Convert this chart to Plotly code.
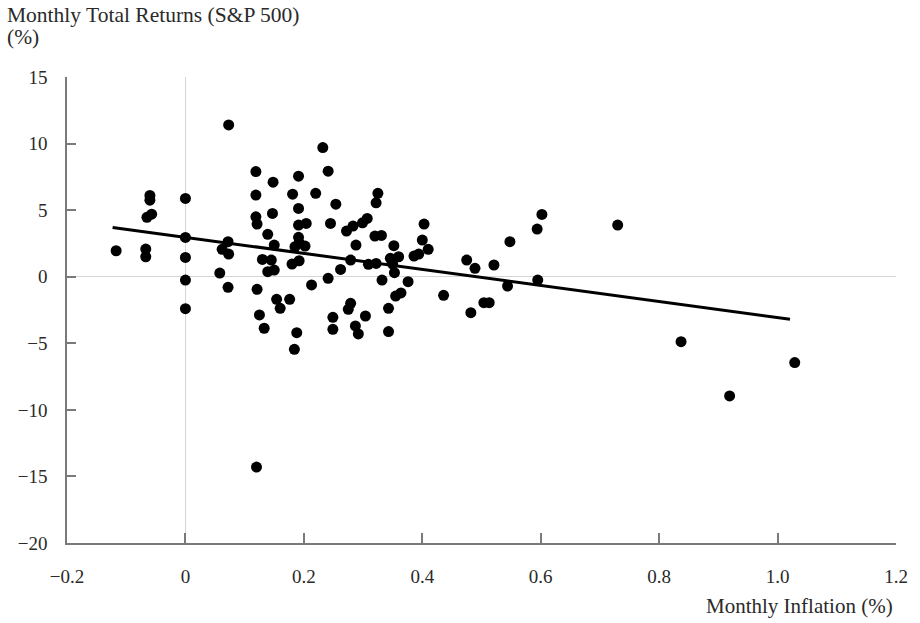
import plotly.graph_objects as go

# Monthly inflation (%) vs monthly total returns of S&P 500 (%)
inflation = [
    -0.117, -0.060, -0.060, -0.057, -0.065, -0.067, -0.067,
    0.0, 0.0, 0.0, 0.0, 0.0,
    0.073, 0.072, 0.062, 0.073, 0.058, 0.072,
    0.119, 0.119, 0.119, 0.121, 0.121, 0.125, 0.133, 0.120,
    0.148, 0.147, 0.139, 0.150, 0.130, 0.145, 0.139, 0.150, 0.154, 0.176, 0.160,
    0.188, 0.184, 0.191, 0.181, 0.191, 0.191, 0.204, 0.191, 0.192, 0.202, 0.185, 0.192, 0.180,
    0.232, 0.241, 0.220, 0.254, 0.245, 0.241, 0.213, 0.262, 0.249, 0.249,
    0.272, 0.283, 0.299, 0.307, 0.288, 0.279, 0.279, 0.275, 0.304, 0.287, 0.292,
    0.325, 0.322, 0.320, 0.331, 0.309, 0.322, 0.332, 0.343, 0.343,
    0.352, 0.350, 0.353, 0.360, 0.346, 0.355, 0.364, 0.376,
    0.403, 0.400, 0.410, 0.394, 0.386, 0.436,
    0.475, 0.489, 0.521, 0.504, 0.513, 0.482, 0.544, 0.548,
    0.594, 0.602, 0.595, 0.730, 0.837, 0.919, 1.029,
]
returns = [
    1.95, 6.10, 5.75, 4.70, 4.46, 2.08, 1.50,
    5.88, 2.95, 1.45, -0.25, -2.40,
    11.40, 2.63, 2.06, 1.70, 0.27, -0.80,
    7.90, 6.13, 4.50, 3.95, -0.95, -2.87, -3.87, -14.30,
    7.10, 4.75, 3.18, 2.38, 1.30, 1.25, 0.38, 0.50, -1.70, -1.70, -2.37,
    -4.20, -5.45, 7.55, 6.20, 5.13, 3.88, 4.00, 2.96, 2.55, 2.30, 2.25, 1.20, 0.95,
    9.70, 7.93, 6.26, 5.45, 4.00, -0.12, -0.62, 0.55, -3.05, -3.95,
    3.43, 3.80, 4.05, 4.38, 2.38, 1.25, -2.00, -2.45, -2.95, -3.70, -4.30,
    6.26, 5.55, 3.05, 3.10, 0.93, 1.00, -0.25, -2.37, -4.12,
    2.33, 0.95, 0.30, 1.50, 1.38, -1.45, -1.22, -0.37,
    3.95, 2.75, 2.06, 1.70, 1.55, -1.40,
    1.25, 0.63, 0.88, -1.95, -1.95, -2.70, -0.70, 2.63,
    3.58, 4.68, -0.25, 3.88, -4.88, -8.95, -6.45,
]

# Fitted trend line end points
trend_x = [-0.123, 1.021]
trend_y = [3.70, -3.20]

x_tickvals = [-0.2, 0, 0.2, 0.4, 0.6, 0.8, 1.0, 1.2]
x_ticktext = ["\u22120.2", "0", "0.2", "0.4", "0.6", "0.8", "1.0", "1.2"]
y_tickvals = [15, 10, 5, 0, -5, -10, -15, -20]
y_ticktext = ["15", "10", "5", "0", "\u22125", "\u221210", "\u221215", "\u221220"]

y_title_lines = ["Monthly Total Returns (S&P 500)", "(%)"]
x_title = "Monthly Inflation (%)"

FONT = "Liberation Serif, Times New Roman, serif"
AXIS_GRAY = "#7a7a7a"
TEXT = "#2a2a2a"

# plot area in pixels
L, R, T, B = 67, 900, 77, 543.3
PW, PH = R - L, B - T

def px(xp):
    return (xp - L) / PW

def py(yp):
    return (B - yp) / PH

fig = go.Figure()
fig.add_trace(go.Scatter(
    x=inflation, y=returns, mode="markers",
    marker=dict(size=11, color="black", line=dict(width=0)),
    showlegend=False, hoverinfo="x+y",
))
fig.add_trace(go.Scatter(
    x=trend_x, y=trend_y, mode="lines",
    line=dict(color="black", width=3),
    showlegend=False, hoverinfo="skip",
))

fig.update_layout(
    width=920, height=623,
    margin=dict(l=L, r=920 - R, t=T, b=623 - B),
    paper_bgcolor="white", plot_bgcolor="white",
    font=dict(family=FONT, size=19, color=TEXT),
    xaxis=dict(
        range=[-0.2, 1.2], tickvals=x_tickvals, ticktext=x_ticktext,
        showgrid=False, zeroline=True, zerolinecolor="#d6d6d6", zerolinewidth=1,
        showline=True, linecolor=AXIS_GRAY, linewidth=1.5,
        ticks="inside", ticklen=10, tickwidth=1.5, tickcolor=AXIS_GRAY,
        ticklabelstandoff=15, tickfont=dict(family=FONT, size=19, color=TEXT),
    ),
    yaxis=dict(
        range=[-20, 15], tickvals=y_tickvals, ticktext=y_ticktext,
        showgrid=False, zeroline=True, zerolinecolor="#d6d6d6", zerolinewidth=1,
        showline=True, linecolor=AXIS_GRAY, linewidth=1.5,
        ticks="inside", ticklen=9, tickwidth=1.5, tickcolor=AXIS_GRAY,
        ticklabelstandoff=14, tickfont=dict(family=FONT, size=19, color=TEXT),
    ),
    annotations=[
        dict(text=y_title_lines[0], xref="paper", yref="paper",
             x=px(5), y=py(15), xanchor="left", yanchor="middle",
             showarrow=False, font=dict(family=FONT, size=21.5, color=TEXT)),
        dict(text=y_title_lines[1], xref="paper", yref="paper",
             x=px(5), y=py(37), xanchor="left", yanchor="middle",
             showarrow=False, font=dict(family=FONT, size=21.5, color=TEXT)),
        dict(text=x_title, xref="paper", yref="paper",
             x=px(899), y=py(606), xanchor="right", yanchor="middle",
             showarrow=False, font=dict(family=FONT, size=21, color=TEXT)),
    ],
)

fig.write_html("out.html")
